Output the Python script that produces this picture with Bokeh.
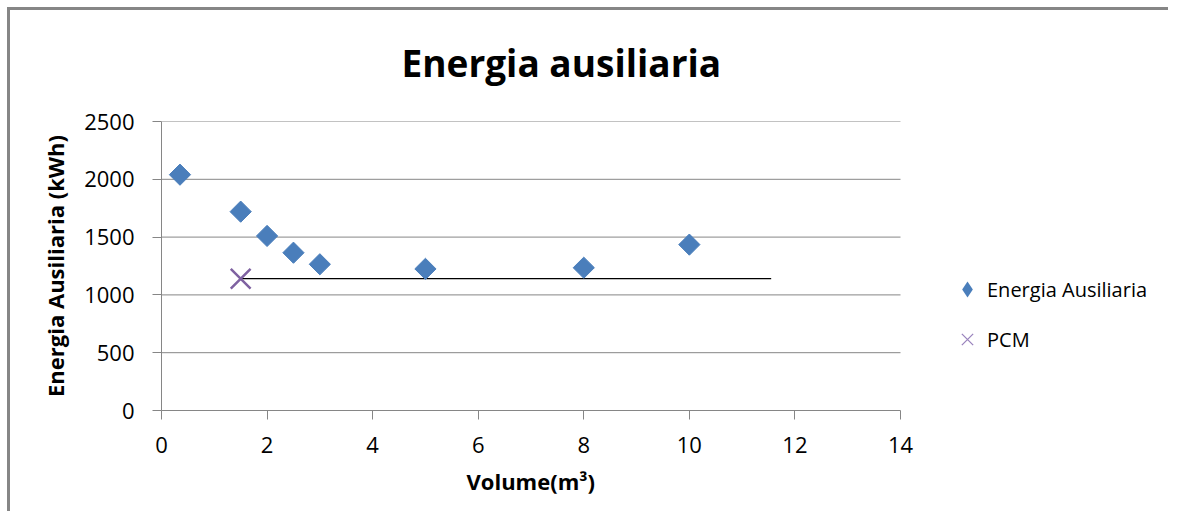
import math
from bokeh.plotting import figure
from bokeh.models import Legend, LegendItem, FixedTicker, Range1d, Title
from bokeh.embed import file_html
from bokeh.resources import INLINE

# ---- data ----
volume = [0.35, 1.5, 2.0, 2.5, 3.0, 5.0, 8.0, 10.0]
energia = [2040, 1720, 1510, 1365, 1265, 1225, 1235, 1435]
pcm_x = [1.5]
pcm_y = [1140]
pcm_line_x = [1.5, 11.55]
pcm_line_y = [1140, 1140]
x_ticks = [0, 2, 4, 6, 8, 10, 12, 14]
y_ticks = [0, 500, 1000, 1500, 2000, 2500]
title_text = "Energia ausiliaria"
x_label = "Volume(m³)"
y_label = "Energia Ausiliaria (kWh)"

FONT = "Open Sans"
GRID = "#868686"

W, H = 1168, 511
LEFT, AXIS_RIGHT = 161, 900          # pixel extent of the 0..14 axis
x_min, x_max = x_ticks[0], x_ticks[-1]
# frame extends to the right edge so the legend can sit inside it
x_end = x_min + (x_max - x_min) * (W - LEFT) / (AXIS_RIGHT - LEFT)

p = figure(width=W, height=H, output_backend="svg", toolbar_location=None,
           x_range=Range1d(x_min, x_end), y_range=Range1d(y_ticks[0], y_ticks[-1]),
           min_border_left=LEFT, min_border_right=0,
           min_border_top=121, min_border_bottom=101)
p.border_fill_alpha = 0
p.background_fill_color = "white"
p.styles = {
    "background": ("linear-gradient(#868686,#868686) 7px 7px / 100% 3px no-repeat, "
                   "linear-gradient(#868686,#868686) 7px 7px / 3px 100% no-repeat, white"),
}

p.title.text = title_text
p.title.text_font = FONT
p.title.text_font_size = "37px"
p.title.text_font_style = "bold"
p.title.text_color = "black"
p.title.align = "left"
p.title.offset = 240
p.title.standoff = 68

p.outline_line_color = None
p.xgrid.grid_line_color = None
p.ygrid.grid_line_color = None

for ax in (p.xaxis[0], p.yaxis[0]):
    ax.axis_line_color = GRID
    ax.major_tick_line_color = GRID
    ax.major_tick_in = 0
    ax.major_tick_out = 9
    ax.minor_tick_line_color = None
    ax.major_label_text_font = FONT
    ax.major_label_text_font_size = "22px"
    ax.major_label_text_color = "black"
    ax.axis_label_text_font = FONT
    ax.axis_label_text_font_size = "22px"
    ax.axis_label_text_font_style = "bold"
    ax.axis_label_text_color = "black"

p.xaxis.bounds = (x_min, x_max)
p.xaxis.ticker = FixedTicker(ticks=x_ticks)
p.yaxis.ticker = FixedTicker(ticks=y_ticks)
p.yaxis.axis_label = y_label
p.xaxis.major_label_standoff = 17
p.yaxis.major_label_standoff = 18
p.yaxis.axis_label_standoff = 11

# x-axis title centred under the 0..14 axis (the frame is wider than the axis)
xt = Title(text=x_label, text_font=FONT, text_font_size="22px", text_font_style="bold",
           text_color="black", align="left", offset=305, standoff=17)
p.add_layout(xt, "below")

# horizontal gridlines limited to the axis extent
gy = y_ticks[1:]
p.segment(x0=[x_min] * len(gy), x1=[x_max] * len(gy), y0=gy, y1=gy,
          line_color=GRID, line_width=1)

p.line(pcm_line_x, pcm_line_y, line_color="black", line_width=1.2)
r_en = p.scatter(volume, energia, marker="square", size=15, angle=math.pi / 4,
                 fill_color="#4a7ebb", line_color="#4a7ebb")
r_pcm = p.scatter(pcm_x, pcm_y, marker="x", size=28, line_color="#7f62a1",
                  line_width=2.5)
# legend proxies: zero-size markers on the same data (legend sizes its own glyph)
lg_en = p.scatter(volume, energia, marker="diamond", size=0, fill_color="#4a7ebb",
                  line_color="#4a7ebb", line_width=0)
lg_pcm = p.scatter(pcm_x, pcm_y, marker="x", size=0, line_color="#9a84bd",
                   line_width=1.3)

legend = Legend(items=[LegendItem(label="Energia Ausiliaria", renderers=[lg_en]),
                       LegendItem(label="PCM", renderers=[lg_pcm])],
                location=(786, 51), orientation="vertical",
                glyph_width=40, glyph_height=40, spacing=10, padding=0, margin=0,
                label_standoff=-9, label_text_font=FONT, label_text_font_size="20px",
                label_text_color="black", border_line_color=None,
                background_fill_alpha=0)
p.add_layout(legend)

open("out.html", "w").write(file_html(p, INLINE))
